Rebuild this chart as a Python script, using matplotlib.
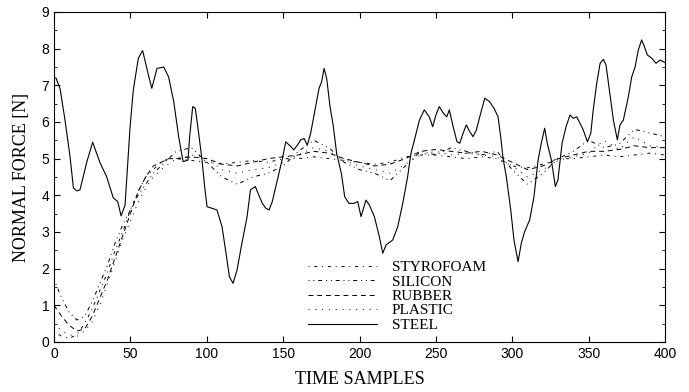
import numpy as np
import matplotlib.pyplot as plt

# steel (solid)
t_steel = [0, 1.3, 4, 7.2, 10.5, 12.7, 15, 17, 21.4, 25.3, 30, 34.5, 38.8, 41.7, 43.9, 46.5,
           49.8, 51.9, 55.2, 58, 61.8, 64, 66, 67.4, 71.8, 75, 78.4, 81.6, 84.5, 87.7, 88.8,
           90.8, 92.5, 94.7, 96.9, 98.6, 100.2, 106.7, 110, 112.6, 114.8, 117.2, 119.8, 123,
           126.4, 128.6, 131.8, 133.1, 136.4, 138.6, 140.8, 142.9, 146.2, 149.5, 151.7, 155,
           157, 159.3, 161.5, 163.7, 165.8, 168, 171.3, 173.5, 175.2, 176.8, 178.5, 180.7,
           182.9, 185, 188.1, 190.3, 193.1, 196.4, 198.8, 201, 204.2, 206.4, 209.7, 213, 215.2,
           217.4, 221.7, 225, 228.3, 231.5, 233.7, 236.5, 239.2, 242.4, 245.7, 247.9, 250,
           252.2, 254.9, 257.1, 258.8, 261, 263.8, 265.6, 267.8, 269.9, 272.1, 274.3, 276.5,
           278.7, 282, 285.2, 288.1, 290.7, 292.4, 294, 296.1, 299, 301.1, 303.8, 305.9, 308.1,
           311.4, 314.2, 316.9, 319, 321.2, 322.9, 325.6, 328.2, 329.9, 332.6, 335.2, 337.8,
           340, 342.2, 344.4, 346.5, 349.2, 351.4, 353, 355.3, 357.5, 359.7, 361.4, 363.6,
           366.2, 368.8, 370.5, 372.7, 376, 378.2, 380.4, 382.5, 384.7, 386.9, 388.4, 391.3,
           394.1, 396.7, 400]
f_steel = [7.2, 7.2, 6.9, 6.05, 5.05, 4.2, 4.12, 4.15, 4.9, 5.45, 4.9, 4.5, 3.93, 3.83, 3.44, 3.73,
           5.87, 6.87, 7.74, 7.95, 7.28, 6.92, 7.23, 7.46, 7.5, 7.23, 6.55, 5.6, 4.92, 4.96, 5.6,
           6.42, 6.37, 5.69, 4.96, 4.24, 3.69, 3.6, 3.14, 2.42, 1.78, 1.6, 1.96, 2.69,
           3.42, 4.15, 4.24, 4.1, 3.78, 3.65, 3.6, 3.83, 4.42, 5.0, 5.46, 5.33,
           5.24, 5.37, 5.51, 5.55, 5.37, 5.69, 6.42, 6.92, 7.1, 7.46, 7.19, 6.42,
           5.87, 5.15, 4.6, 3.96, 3.78, 3.78, 3.83, 3.42, 3.87, 3.74, 3.42, 2.87, 2.42,
           2.65, 2.78, 3.14, 3.78, 4.51, 5.15, 5.6, 6.05, 6.33, 6.14, 5.87, 6.19,
           6.42, 6.24, 6.14, 6.33, 5.92, 5.46, 5.42, 5.69, 5.92, 5.74, 5.6, 5.78,
           6.14, 6.65, 6.55, 6.37, 6.14, 5.6, 5.0, 4.51, 3.6, 2.78, 2.19, 2.69, 3.01,
           3.33, 3.96, 4.96, 5.42, 5.83, 5.42, 4.96, 4.24, 4.42, 5.42, 5.87, 6.19,
           6.1, 6.14, 5.96, 5.78, 5.46, 5.69, 6.33, 7.06, 7.6, 7.71, 7.55, 6.87,
           6.05, 5.51, 5.92, 6.05, 6.69, 7.23, 7.5, 7.96, 8.24, 8.01, 7.83, 7.74,
           7.6, 7.69, 7.62]

# the four soft materials share one time grid
t_soft = [0, 5, 10, 15, 20, 25, 30, 35, 40, 45, 50, 55, 60, 65, 70, 75, 80, 90, 100, 110, 120,
          130, 140, 150, 160, 170, 180, 190, 200, 210, 220, 230, 240, 250, 260, 270, 280, 290,
          300, 310, 320, 330, 340, 350, 360, 370, 380, 390, 400]
f_styro = [0.3, 0.15, 0.1, 0.2, 0.5, 0.9, 1.4, 1.9, 2.5, 3.0, 3.6, 4.1, 4.5, 4.7, 4.9, 5.0, 5.0,
           4.95, 4.9, 4.85, 4.9, 4.95, 4.9, 5.0, 5.0, 5.05, 5.0, 4.95, 4.9, 4.85, 4.9, 5.05, 5.1,
           5.1, 5.05, 5.0, 5.05, 5.0, 4.8, 4.75, 4.85, 5.0, 5.0, 5.05, 5.1, 5.05, 5.1, 5.15, 5.1]
f_silicon = [1.7, 1.2, 0.8, 0.6, 0.7, 1.1, 1.6, 2.1, 2.7, 3.2, 3.6, 4.0, 4.3, 4.6, 4.8, 5.0, 5.2,
             5.3, 4.9, 4.5, 4.3, 4.5, 4.6, 4.8, 5.2, 5.5, 5.3, 4.9, 4.7, 4.6, 4.4, 4.8, 5.2,
             5.1, 5.3, 5.2, 5.1, 5.2, 4.7, 4.3, 4.6, 5.0, 5.2, 5.5, 5.3, 5.4, 5.8, 5.7, 5.6]
f_rubber = [1.0, 0.7, 0.45, 0.3, 0.35, 0.7, 1.2, 1.7, 2.3, 2.9, 3.5, 4.1, 4.5, 4.8, 4.9, 5.0, 5.0,
            5.05, 5.0, 4.85, 4.8, 4.9, 5.0, 5.05, 5.1, 5.2, 5.15, 5.0, 4.9, 4.8, 4.85, 5.0, 5.2,
            5.25, 5.2, 5.15, 5.2, 5.1, 4.9, 4.7, 4.8, 5.0, 5.1, 5.2, 5.2, 5.25, 5.35, 5.3, 5.3]
f_plastic = [0.5, 0.3, 0.2, 0.15, 0.3, 0.55, 1.0, 1.6, 2.2, 2.8, 3.3, 3.8, 4.2, 4.5, 4.7, 4.85, 5.0,
             5.1, 5.0, 4.7, 4.6, 4.7, 4.75, 4.9, 5.1, 5.3, 5.2, 4.95, 4.8, 4.7, 4.6, 4.85, 5.1,
             5.2, 5.1, 5.15, 5.1, 5.05, 4.8, 4.5, 4.7, 4.95, 5.05, 5.15, 5.5, 5.25, 5.6, 5.35, 5.3]

fig = plt.figure(figsize=(6.89, 3.92), dpi=100)
ax = fig.add_axes([0.0784, 0.1276, 0.8868, 0.8418])

lw = 0.7
ax.plot(t_soft, f_styro, color="black", lw=lw, linestyle=(0, (1, 5, 3, 5)), label="STYROFOAM")
ax.plot(t_soft, f_silicon, color="black", lw=lw, linestyle=(0, (1, 4, 1, 4, 4, 4)), label="SILICON")
ax.plot(t_soft, f_rubber, color="black", lw=lw, linestyle=(0, (5, 4)), label="RUBBER")
ax.plot(t_soft, f_plastic, color="black", lw=lw, linestyle=(0, (1, 6)), label="PLASTIC")
ax.plot(t_steel, f_steel, color="black", lw=0.8, linestyle="-", label="STEEL")

ax.set_xlim(0, 400)
ax.set_ylim(0, 9)
ax.set_xticks(np.arange(0, 401, 50))
ax.set_yticks(np.arange(0, 10, 1))
ax.set_yticks(np.arange(0, 9.01, 0.5), minor=True)
ax.tick_params(direction="in", top=True, right=True, length=4, width=0.8)
ax.tick_params(which="minor", direction="in", right=True, length=2, width=0.6)
for lab in ax.get_xticklabels() + ax.get_yticklabels():
    lab.set_family("Liberation Sans")
    lab.set_fontsize(10)
for s in ax.spines.values():
    s.set_linewidth(0.8)

ax.set_xlabel("TIME SAMPLES", family="Liberation Serif", fontsize=13, labelpad=7)
ax.set_ylabel("NORMAL FORCE [N]", family="Liberation Serif", fontsize=13, labelpad=8)

ax.legend(loc="center left", bbox_to_anchor=(0.403, 0.139), frameon=False, borderpad=0,
          handlelength=4.5, handletextpad=1.0, labelspacing=0.05,
          prop={"family": "Liberation Serif", "size": 11})

fig.savefig("out.png", dpi=100)
